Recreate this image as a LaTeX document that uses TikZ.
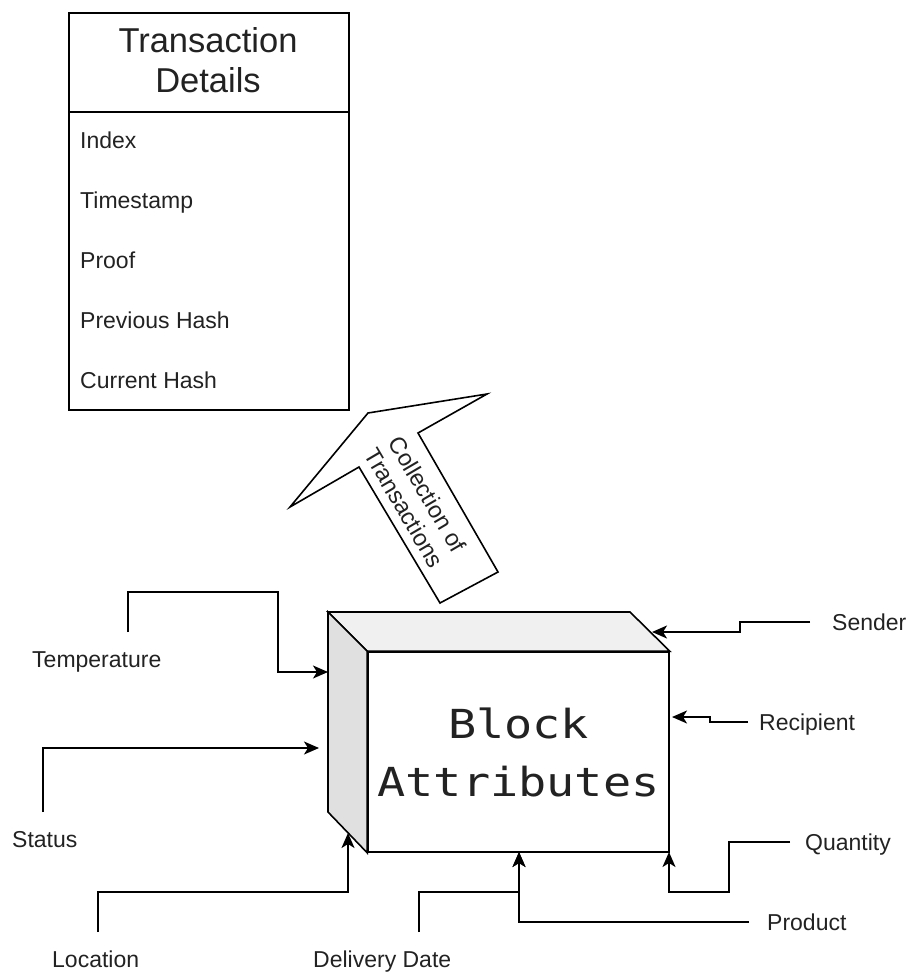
\documentclass[tikz,border=0pt]{standalone}
\usepackage{fontspec}
\setmainfont{Liberation Sans}
\newfontfamily\blockfont[FakeStretch=1.17]{DejaVu Sans Mono}
\usetikzlibrary{arrows.meta}
\definecolor{inkc}{HTML}{222222}
\definecolor{topface}{HTML}{F0F0F0}
\definecolor{sideface}{HTML}{E0E0E0}
\tikzset{
  lbl/.style={inner sep=0pt, anchor=base west, text=inkc,
              font=\fontsize{23}{27}\selectfont},
  wire/.style={line width=1.6pt, -{Stealth[length=15pt,width=13pt,inset=4pt]}},
  plain/.style={line width=1.6pt},
  edge/.style={line width=1.6pt, line join=miter}
}
\begin{document}
\begin{tikzpicture}[x=1pt, y=-1pt]
\useasboundingbox (0,0) rectangle (911,972);

% ---- Transaction details table ----
\node[draw, edge, anchor=north west, minimum width=280pt, minimum height=397pt,
      inner sep=0pt] (details) at (68,12) {};
\coordinate (hdrL) at (68,112);
\coordinate (hdrR) at (348,112);
\draw[plain] (hdrL) -- (hdrR);
\node[align=center, text=inkc, inner sep=0pt,
      font=\fontsize{34.5}{40}\selectfont] (title) at (208,60) {Transaction\\Details};
\node[lbl] (fIndex) at (80,148) {Index};
\node[lbl] (fTime)  at (80,208) {Timestamp};
\node[lbl] (fProof) at (80,268) {Proof};
\node[lbl] (fPrev)  at (80,328) {Previous Hash};
\node[lbl] (fCurr)  at (80,388) {Current Hash};

% ---- Block arrow pointing at the table ----
\draw[edge, fill=white]
  (290,507) -- (368,413) -- (487,394) -- (418,433) -- (498,572)
  -- (440,603) -- (359,467) -- cycle;
\node[align=center, text=inkc, inner sep=0pt, rotate=-59.6,
      font=\fontsize{23.5}{27}\selectfont] (collect) at (416,501)
      {Collection of\\Transactions};

% ---- The block (cube) ----
\node[draw, edge, fill=white, minimum width=301pt, minimum height=200pt,
      inner sep=0pt, align=center, text=inkc,
      font=\blockfont\fontsize{40}{58}\selectfont] (front) at (518.5,752)
      {Block\\Attributes};
\coordinate (backTL) at (328,612);
\coordinate (backTR) at (630,612);
\coordinate (backBL) at (328,812);
\draw[edge, fill=topface]  (front.north west) -- (backTL) -- (backTR) -- (front.north east) -- cycle;
\draw[edge, fill=sideface] (front.north west) -- (backTL) -- (backBL) -- (front.south west) -- cycle;

% ---- Attribute labels ----
\node[lbl] (temp)   at (32,667)  {Temperature};
\node[lbl] (status) at (12,847)  {Status};
\node[lbl] (loc)    at (52,967)  {Location};
\node[lbl] (ddate)  at (313,967) {Delivery Date};
\node[lbl] (prod)   at (767,930) {Product};
\node[lbl] (qty)    at (805,850) {Quantity};
\node[lbl] (recip)  at (759,730) {Recipient};
\node[lbl] (send)   at (832,630) {Sender};

% ---- connector ends ----
\coordinate (tempS)  at (128,632);
\coordinate (tempE)  at (328,672);
\coordinate (statS)  at (43,812);
\coordinate (statE)  at (319,748);
\coordinate (locS)   at (98,932);
\coordinate (locE)   at (348,833);
\coordinate (ddS)    at (419,932);
\coordinate (ddE)    at (519,852);
\coordinate (prodS)  at (749,922);
\coordinate (qtyS)   at (790,842);
\coordinate (qtyE)   at (669,852);
\coordinate (recS)   at (748,722);
\coordinate (recE)   at (672,717);
\coordinate (sendS)  at (810,622);
\coordinate (sendE)  at (652,632);

% ---- connectors ----
\draw[wire] (tempS) -- (128,592) -- (278,592) -- (278,672) -- (tempE);
\draw[wire] (statS) -- (43,748) -- (statE);
\draw[wire] (locS) -- (98,892) -- (348,892) -- (locE);
\draw[wire] (ddS) -- (419,892) -- (519,892) -- (ddE);
\draw[wire] (prodS) -- (519,922) -- (ddE);
\draw[wire] (qtyS) -- (729,842) -- (729,892) -- (669,892) -- (qtyE);
\draw[wire] (recS) -- (710,722) -- (710,717) -- (recE);
\draw[wire] (sendS) -- (740,622) -- (740,632) -- (sendE);
\end{tikzpicture}
\end{document}
